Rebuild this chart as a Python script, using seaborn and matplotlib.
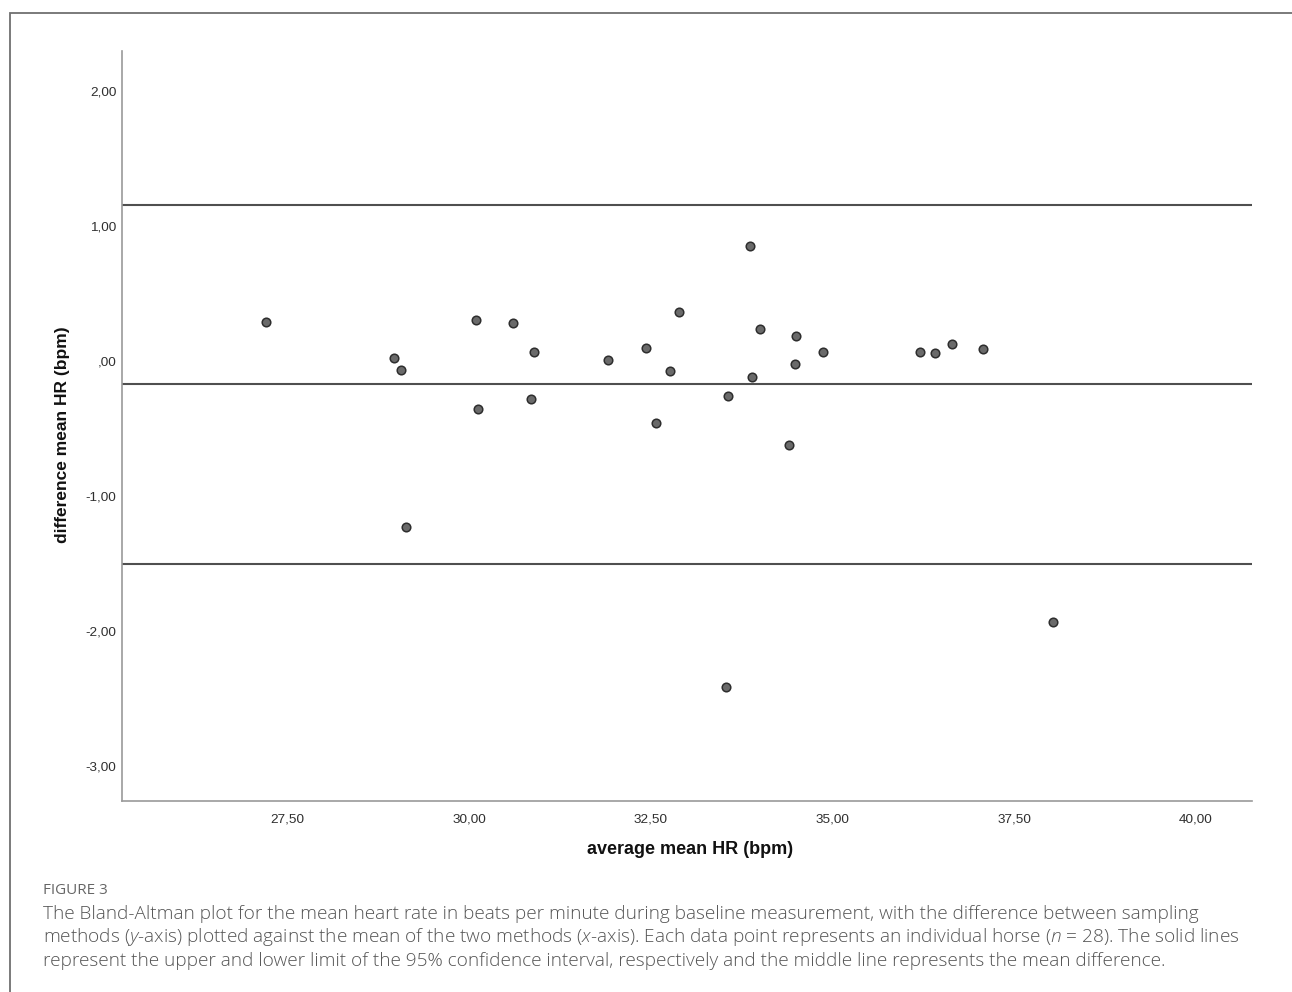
import matplotlib
matplotlib.use("Agg")
import matplotlib.pyplot as plt
from matplotlib.patches import Rectangle
import seaborn as sns
import pandas as pd

# ---- data ----
avg_hr = [27.20, 28.97, 29.07, 29.14, 30.09, 30.12, 30.60, 30.90, 30.85, 31.91,
          32.43, 32.58, 32.76, 32.89, 33.56, 33.54, 33.87, 33.90, 34.01, 34.41,
          34.50, 34.49, 34.87, 36.20, 36.41, 36.65, 37.07, 38.04]
diff_hr = [0.286, 0.022, -0.067, -1.227, 0.301, -0.358, 0.283, 0.064, -0.281, 0.007,
           0.094, -0.459, -0.076, 0.360, -0.257, -2.411, 0.849, -0.116, 0.235, -0.620,
           0.185, -0.024, 0.064, 0.069, 0.061, 0.124, 0.089, -1.930]
limit_lines = [1.155, -0.168, -1.500]   # upper LoA, mean difference, lower LoA

x_ticks = [27.5, 30.0, 32.5, 35.0, 37.5, 40.0]
x_tick_labels = ["27,50", "30,00", "32,50", "35,00", "37,50", "40,00"]
y_ticks = [2.0, 1.0, 0.0, -1.0, -2.0, -3.0]
y_tick_labels = ["2,00", "1,00", ",00", "-1,00", "-2,00", "-3,00"]

x_label = "average mean HR (bpm)"
y_label = "difference mean HR (bpm)"
fig_tag = "FIGURE 3"
caption_lines = [
    "The Bland-Altman plot for the mean heart rate in beats per minute during baseline measurement, with the difference between sampling",
    "methods ($y$-axis) plotted against the mean of the two methods ($x$-axis). Each data point represents an individual horse ($n$ = 28). The solid lines",
    "represent the upper and lower limit of the 95% confidence interval, respectively and the middle line represents the mean difference.",
]

df = pd.DataFrame({"avg": avg_hr, "diff": diff_hr})

sns.set_theme(style="white")
plt.rcParams["font.family"] = ["Liberation Sans", "DejaVu Sans"]
plt.rcParams["mathtext.fontset"] = "custom"
plt.rcParams["mathtext.rm"] = "Open Sans"
plt.rcParams["mathtext.it"] = "Open Sans:italic:light"

W, H = 1292, 992
fig = plt.figure(figsize=(W / 100, H / 100), dpi=100)
fig.patch.set_facecolor("white")

ax_l, ax_r, ax_t, ax_b = 122, 1252, 50.7, 801
ax = fig.add_axes([ax_l / W, 1 - ax_b / H, (ax_r - ax_l) / W, (ax_b - ax_t) / H])

for v in limit_lines:
    ax.axhline(v, color="#4f4f4f", linewidth=1.5, zorder=1)

sns.scatterplot(data=df, x="avg", y="diff", ax=ax, s=38, color="#6a6a6a",
                edgecolor="#2e2e2e", linewidth=1.1, zorder=3, legend=False)

ax.set_xlim(25.225, 40.775)
ax.set_ylim(-3.257, 2.297)
ax.set_xticks(x_ticks)
ax.set_xticklabels(x_tick_labels)
ax.set_yticks(y_ticks)
ax.set_yticklabels(y_tick_labels)
ax.tick_params(axis="both", length=0, labelsize=9.7, labelcolor="#2f2f2f")
ax.tick_params(axis="x", pad=9)
ax.tick_params(axis="y", pad=4)

for side in ["top", "right"]:
    ax.spines[side].set_visible(False)
for side in ["left", "bottom"]:
    ax.spines[side].set_color("#9a9a9a")
    ax.spines[side].set_linewidth(1.2)

ax.set_xlabel("")
ax.set_ylabel("")
fig.text(690 / W, 1 - 850 / H, x_label, ha="center", va="center",
         fontsize=13, fontweight="bold", color="#111111")
fig.text(63 / W, 1 - 435 / H, y_label, ha="center", va="center", rotation=90,
         fontsize=12.5, fontweight="bold", color="#111111")

# caption
fig.text(43 / W, 1 - 891 / H, fig_tag, ha="left", va="center",
         fontsize=11, color="#666666", family=["Open Sans", "DejaVu Sans"])
for i, line in enumerate(caption_lines):
    fig.text(43 / W, 1 - (914 + 23.5 * i) / H, line, ha="left", va="center",
             fontsize=13.7, fontweight="light", color="#555555",
             family=["Open Sans", "DejaVu Sans"])

# outer frame (open to the right and bottom)
fig.add_artist(Rectangle((10 / W, -0.2), 1.5, 1.2 - 13 / H,
                         transform=fig.transFigure, fill=False,
                         edgecolor="#6f6f6f", linewidth=1.3))

fig.savefig("out.png", dpi=100, facecolor="white")
